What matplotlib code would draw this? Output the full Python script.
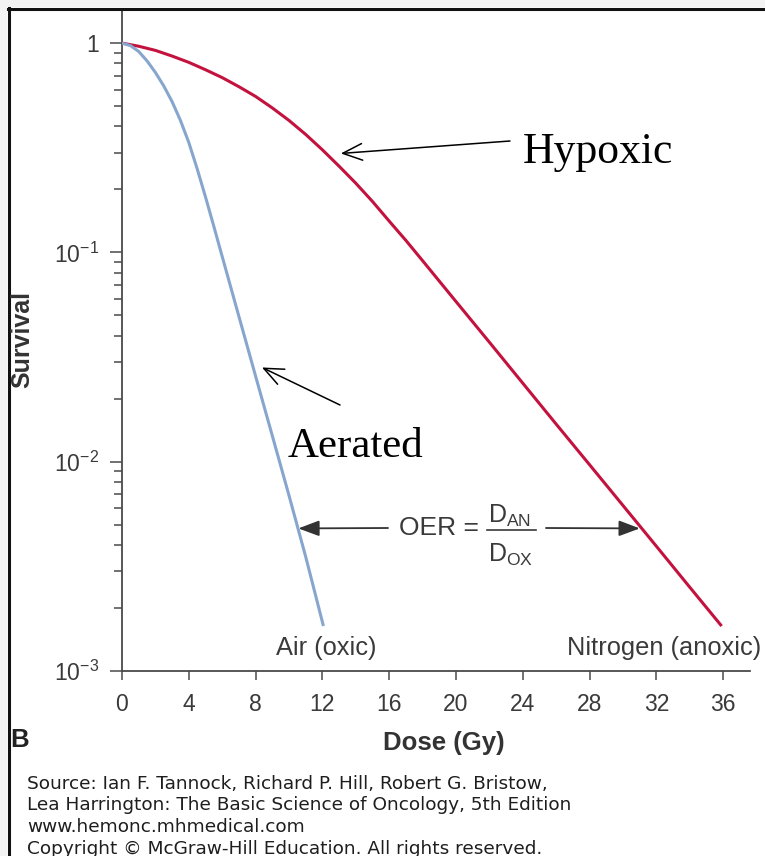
import matplotlib
matplotlib.use("Agg")
import matplotlib.pyplot as plt
from matplotlib.lines import Line2D
from matplotlib.patches import Rectangle

plt.rcParams["font.family"] = ["Liberation Sans", "DejaVu Sans"]
plt.rcParams["mathtext.fontset"] = "custom"
plt.rcParams["mathtext.rm"] = "Liberation Sans"
plt.rcParams["mathtext.it"] = "Liberation Sans:italic"
plt.rcParams["mathtext.bf"] = "Liberation Sans:bold"

# survival curves (dose in Gy, surviving fraction)
hypoxic_dose = [0, 1, 2, 3, 4, 5, 6, 7, 8, 9, 10, 11, 12, 13, 14, 15, 16, 17, 18,
                20, 22, 24, 26, 28, 30, 32, 34, 35.9]
hypoxic_surv = [1.0, 0.966, 0.923, 0.867, 0.809, 0.746, 0.684, 0.619, 0.556, 0.490,
                0.427, 0.366, 0.309, 0.258, 0.214, 0.175, 0.141, 0.114, 0.0912,
                0.0582, 0.0372, 0.0237, 0.0151, 0.00966, 0.00617, 0.00394, 0.00251, 0.00164]

aerated_dose = [0, 0.5, 1, 1.5, 2, 2.5, 3, 3.5, 4, 4.5, 5, 5.5, 6, 6.5, 7, 7.5, 8,
                9, 10, 11, 12.06]
aerated_surv = [1.0, 0.973, 0.912, 0.822, 0.724, 0.624, 0.525, 0.427, 0.335, 0.251,
                0.184, 0.133, 0.0955, 0.0687, 0.0494, 0.0356, 0.0256,
                0.0133, 0.00689, 0.00351, 0.00164]

x_ticks = [0, 4, 8, 12, 16, 20, 24, 28, 32, 36]
y_ticks = [1, 1e-1, 1e-2, 1e-3]
y_tick_labels = ["1", r"$\mathregular{10^{-1}}$", r"$\mathregular{10^{-2}}$", r"$\mathregular{10^{-3}}$"]

# dose at which both curves reach the same survival level
oer_surv = 0.0048
oer_aerated_dose = 10.56
oer_hypoxic_dose = 31.0

W, H = 765, 856
fig = plt.figure(figsize=(W / 100, H / 100), dpi=100)
fig.patch.set_facecolor("white")

def fx(px):
    return px / W

def fy(py):
    return 1 - py / H

# grey page edge and the black frame lines at top and left
fig.add_artist(Rectangle((0, fy(7)), 1, 7 / H, transform=fig.transFigure, color="#f3f3f3", lw=0))
fig.add_artist(Rectangle((0, 0), 7 / W, 1, transform=fig.transFigure, color="#f3f3f3", lw=0))
fig.add_artist(Line2D([fx(7.5), 1], [fy(8.5), fy(8.5)], transform=fig.transFigure, color="#111111", lw=2.2))
fig.add_artist(Line2D([fx(8.5), fx(8.5)], [0, fy(7.5)], transform=fig.transFigure, color="#111111", lw=2.2))

ax = fig.add_axes([fx(122), fy(671), (750 - 122) / W, (671 - 10) / H])
ax.set_yscale("log")
ax.set_xlim(0, 37.6)
ax.set_ylim(1e-3, 10 ** ((671 - 10) / 209.3 - 3))

ax.plot(hypoxic_dose, hypoxic_surv, color="#c4123f", lw=2.2, solid_capstyle="butt", zorder=3)
ax.plot(aerated_dose, aerated_surv, color="#87a6ce", lw=2.2, solid_capstyle="butt", zorder=3)

for side in ["top", "right"]:
    ax.spines[side].set_visible(False)
for side in ["left", "bottom"]:
    ax.spines[side].set_color("#4a4a4a")
    ax.spines[side].set_linewidth(1.3)

tick_color = "#3a3a3a"
ax.set_xticks(x_ticks)
ax.set_yticks(y_ticks)
ax.set_yticklabels(y_tick_labels)
ax.tick_params(axis="x", length=6.5, width=1.1, pad=9, labelsize=16.5, color="#4a4a4a", labelcolor=tick_color)
ax.tick_params(axis="y", which="major", length=8.6, width=1.1, pad=8, labelsize=16.5, color="#4a4a4a", labelcolor=tick_color)
ax.tick_params(axis="y", which="minor", length=5.8, width=1.1, color="#4a4a4a")

# axis titles and panel letter
fig.text(fx(22), fy(340), "Survival", rotation=90, ha="center", va="center", fontsize=18, fontweight="bold", color="#333333")
fig.text(fx(383), fy(750), "Dose (Gy)", ha="left", va="baseline", fontsize=18.5, fontweight="bold", color="#333333")
fig.text(fx(10), fy(747), "B", ha="left", va="baseline", fontsize=18.5, fontweight="bold", color="#222222")

# curve names under the curves
fig.text(fx(326), fy(655), "Air (oxic)", ha="center", va="baseline", fontsize=18.3, color=tick_color)
fig.text(fx(567), fy(655), "Nitrogen (anoxic)", ha="left", va="baseline", fontsize=18.3, color=tick_color)

# serif call-outs
serif = ["Liberation Serif", "DejaVu Serif"]
fig.text(fx(523), fy(163), "Hypoxic", ha="left", va="baseline", fontsize=31.5, family=serif, color="black")
fig.text(fx(288), fy(457), "Aerated", ha="left", va="baseline", fontsize=31, family=serif, color="black")
ax.annotate("", xy=(13.1, 0.297), xytext=(510, H - 141), textcoords="figure pixels",
            arrowprops=dict(arrowstyle="->,head_length=0.7,head_width=0.3", lw=1.1, color="black",
                            mutation_scale=20, shrinkA=0, shrinkB=0))
ax.annotate("", xy=(8.38, 0.0282), xytext=(340, H - 405), textcoords="figure pixels",
            arrowprops=dict(arrowstyle="->,head_length=0.7,head_width=0.3", lw=1.1, color="black",
                            mutation_scale=20, shrinkA=0, shrinkB=0))

# OER arrows between the two curves
arrow_kw = dict(arrowstyle="-|>,head_length=0.8,head_width=0.3", lw=1.3, color="#333333",
                mutation_scale=16, shrinkA=0, shrinkB=0)
ax.annotate("", xy=(oer_aerated_dose, oer_surv), xytext=(388, H - 528), textcoords="figure pixels", arrowprops=arrow_kw)
ax.annotate("", xy=(oer_hypoxic_dose, oer_surv), xytext=(546, H - 528), textcoords="figure pixels", arrowprops=arrow_kw)

fig.text(fx(439), fy(528), "OER =", ha="center", va="center", fontsize=19, color=tick_color)
fig.text(fx(488), fy(523), r"$\mathregular{D_{AN}}$", ha="left", va="baseline", fontsize=18, color=tick_color)
fig.text(fx(488), fy(562), r"$\mathregular{D_{OX}}$", ha="left", va="baseline", fontsize=18, color=tick_color)
fig.add_artist(Line2D([fx(487), fx(536)], [fy(530), fy(530)], transform=fig.transFigure, color=tick_color, lw=1.2))

# source credit
credit = [
    "Source: Ian F. Tannock, Richard P. Hill, Robert G. Bristow,",
    "Lea Harrington: The Basic Science of Oncology, 5th Edition",
    "www.hemonc.mhmedical.com",
    "Copyright \u00a9 McGraw-Hill Education. All rights reserved.",
]
for i, line in enumerate(credit):
    fig.text(fx(27), fy(789 + 21.5 * i), line, ha="left", va="baseline", fontsize=13.3,
             family=["DejaVu Sans"], color="#1e1e1e")

fig.savefig("out.png", dpi=100)
